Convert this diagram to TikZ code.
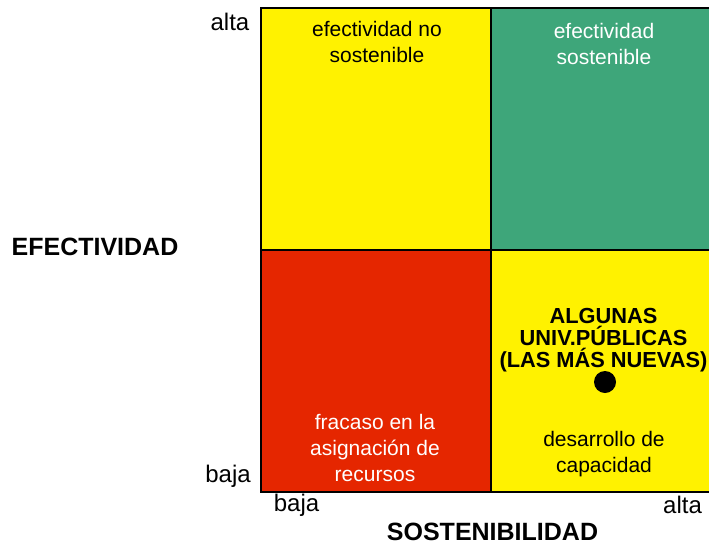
\documentclass[tikz,border=0pt]{standalone}
\usepackage{fontspec}
\setmainfont{Liberation Sans}
\definecolor{qyellow}{RGB}{255,242,0}
\definecolor{qgreen}{RGB}{62,166,122}
\definecolor{qred}{RGB}{229,38,0}
\begin{document}
\begin{tikzpicture}[x=1pt,y=-1pt,
  quad/.style={draw=black,line width=2pt,minimum width=230pt,minimum height=242pt,inner sep=0pt,outer sep=0pt},
  qtext/.style={anchor=base,align=center,inner sep=0pt,font=\fontsize{21}{26}\selectfont},
  btext/.style={anchor=base,align=center,inner sep=0pt,font=\fontsize{21.8}{22}\selectfont\bfseries},
  lab/.style={anchor=base,inner sep=0pt,font=\fontsize{24}{28}\selectfont},
  axis/.style={anchor=base,inner sep=0pt,font=\fontsize{25}{28}\selectfont\bfseries}]
\useasboundingbox (0,0) rectangle (709,544);
\clip (0,0) rectangle (709,544);
\node[quad,fill=qyellow] (tl) at (376,129) {};
\node[quad,fill=qgreen] (tr) at (606,129) {};
\node[quad,fill=qred] (bl) at (376,371) {};
\node[quad,fill=qyellow] (br) at (606,371) {};
\node[qtext] (tlt) at (377,62) {efectividad no\\sostenible};
\node[qtext,text=white] (trt) at (604,64) {efectividad\\sostenible};
\node[qtext,text=white] (blt) at (375,481) {fracaso en la\\asignación de\\recursos};
\node[qtext] (brt) at (604,472) {desarrollo de\\capacidad};
\node[btext] (univ) at (603.5,367) {ALGUNAS\\UNIV.PÚBLICAS\\(LAS MÁS NUEVAS)};
\fill[black] (605,382) circle[radius=11pt];
\node[lab] (yalta) at (230,30) {alta};
\node[lab] (ybaja) at (228,482) {baja};
\node[lab] (xbaja) at (296.5,511) {baja};
\node[lab] (xalta) at (682.5,513) {alta};
\node[axis] (xname) at (492.5,540) {SOSTENIBILIDAD};
\node[axis] (yname) at (95,255) {EFECTIVIDAD};
\end{tikzpicture}
\end{document}
